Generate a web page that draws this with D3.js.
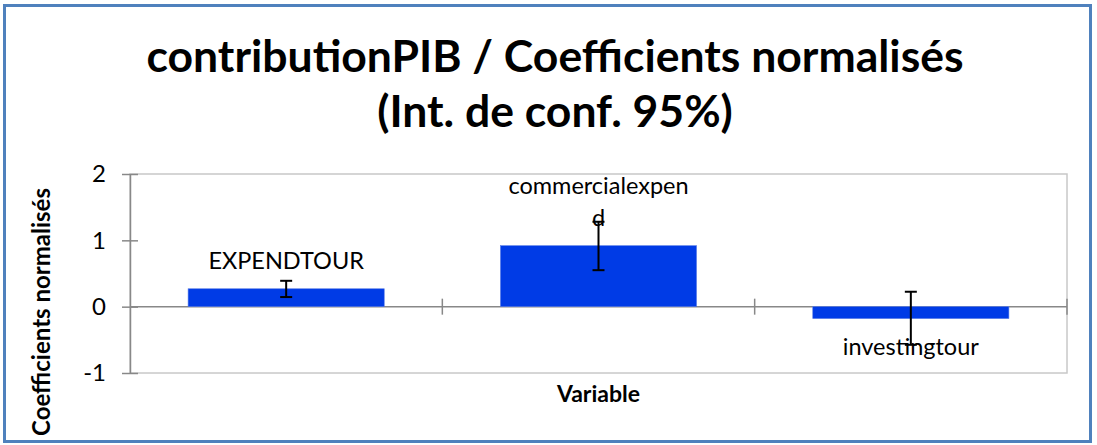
<!DOCTYPE html>
<html>
<head>
<meta charset="utf-8">
<script src="https://d3js.org/d3.v7.min.js"></script>
<style>
  body { margin: 0; background: #fff; }
  text { font-family: Lato, "Open Sans", sans-serif; fill: #000; }
</style>
</head>
<body>
<script>
// data
var variables = ["EXPENDTOUR", "commercialexpend", "investingtour"];
var coefs     = [0.27, 0.92, -0.18];
var ciLow     = [0.145, 0.55, -0.575];
var ciHigh    = [0.39, 1.28, 0.225];
var yTicks    = [-1, 0, 1, 2];

var W = 1097, H = 445;
var plot = {left: 130, right: 1067, top: 174, bottom: 373};

var svg = d3.select("body").append("svg")
    .attr("width", W)
    .attr("height", H);

// outer frame
svg.append("rect")
    .attr("x", 4.5).attr("y", 5.5)
    .attr("width", 1086).attr("height", 436)
    .attr("fill", "#fff")
    .attr("stroke", "#4f81bd")
    .attr("stroke-width", 3);

// title
var title = svg.append("text")
    .attr("text-anchor", "middle")
    .attr("font-weight", "bold")
    .attr("font-size", 44.5);
title.append("tspan").attr("x", 555).attr("y", 72).text("contributionPIB / Coefficients normalisés");
title.append("tspan").attr("x", 555).attr("y", 127).text("(Int. de conf. 95%)");

var x = d3.scaleBand()
    .domain(variables)
    .range([plot.left, plot.right])
    .paddingInner(0.372)
    .paddingOuter(0.186);

var y = d3.scaleLinear()
    .domain([-1, 2])
    .range([plot.bottom, plot.top]);

// plot area border
svg.append("rect")
    .attr("x", plot.left).attr("y", plot.top)
    .attr("width", plot.right - plot.left)
    .attr("height", plot.bottom - plot.top)
    .attr("fill", "none")
    .attr("stroke", "#c8c8c8")
    .attr("stroke-width", 1.5);

// y axis
var yAxis = d3.axisLeft(y)
    .tickValues(yTicks)
    .tickFormat(function (d) { return String(d); })   // plain hyphen like excel
    .tickSizeInner(8)
    .tickSizeOuter(0)
    .tickPadding(16);
var gy = svg.append("g")
    .attr("transform", "translate(" + plot.left + ",0)")
    .call(yAxis);
gy.select(".domain").attr("stroke", "#888").attr("stroke-width", 1.5);
gy.selectAll(".tick line").attr("stroke", "#888").attr("stroke-width", 1.5)
    .attr("x2", -8).attr("x1", 8);
gy.selectAll(".tick text")
    .attr("font-size", 24)
    .attr("font-family", "Lato, sans-serif")
    .attr("fill", "#000");

// zero line (category axis)
var step = x.step();
var gx = svg.append("g");
gx.append("line")
    .attr("x1", plot.left).attr("x2", plot.right)
    .attr("y1", y(0)).attr("y2", y(0))
    .attr("stroke", "#888").attr("stroke-width", 1.5);
gx.selectAll("line.tk")
    .data(variables)
    .enter().append("line")
    .attr("class", "tk")
    .attr("x1", function (d) { return x(d) + x.bandwidth() + (step - x.bandwidth()) / 2; })
    .attr("x2", function (d) { return x(d) + x.bandwidth() + (step - x.bandwidth()) / 2; })
    .attr("y1", y(0) - 8).attr("y2", y(0) + 8)
    .attr("stroke", "#888").attr("stroke-width", 1.5);

// bars
svg.selectAll("rect.bar")
    .data(variables)
    .enter().append("rect")
    .attr("class", "bar")
    .attr("x", function (d) { return x(d); })
    .attr("width", x.bandwidth())
    .attr("y", function (d, i) { return y(Math.max(0, coefs[i])); })
    .attr("height", function (d, i) { return Math.abs(y(coefs[i]) - y(0)); })
    .attr("fill", "#003be6")
    .attr("stroke", "#5b7fe8")
    .attr("stroke-width", 0.6);

// error bars
var capw = 6;
var eb = svg.selectAll("g.err")
    .data(variables)
    .enter().append("g")
    .attr("class", "err")
    .attr("stroke", "#000")
    .attr("stroke-width", 2);
eb.append("line")
    .attr("x1", function (d) { return x(d) + x.bandwidth() / 2; })
    .attr("x2", function (d) { return x(d) + x.bandwidth() / 2; })
    .attr("y1", function (d, i) { return y(ciLow[i]); })
    .attr("y2", function (d, i) { return y(ciHigh[i]); });
eb.append("line")
    .attr("x1", function (d) { return x(d) + x.bandwidth() / 2 - capw; })
    .attr("x2", function (d) { return x(d) + x.bandwidth() / 2 + capw; })
    .attr("y1", function (d, i) { return y(ciHigh[i]); })
    .attr("y2", function (d, i) { return y(ciHigh[i]); });
eb.append("line")
    .attr("x1", function (d) { return x(d) + x.bandwidth() / 2 - capw; })
    .attr("x2", function (d) { return x(d) + x.bandwidth() / 2 + capw; })
    .attr("y1", function (d, i) { return y(ciLow[i]); })
    .attr("y2", function (d, i) { return y(ciLow[i]); });

// data labels (category names), wrapped like excel does
var labelSize = 23.5, lineH = 32, maxW = 188;
variables.forEach(function (name, i) {
    var cx = x(name) + x.bandwidth() / 2;
    var t = svg.append("text")
        .attr("text-anchor", "middle")
        .attr("font-size", labelSize);
    // split by characters when too wide
    var lines = [], cur = "";
    var probe = svg.append("text").attr("font-size", labelSize);
    for (var c = 0; c < name.length; c++) {
        probe.text(cur + name[c]);
        if (probe.node().getComputedTextLength() > maxW && cur.length) {
            lines.push(cur);
            cur = name[c];
        } else {
            cur += name[c];
        }
    }
    lines.push(cur);
    probe.remove();
    var base;
    if (coefs[i] >= 0) {
        base = y(coefs[i]) - 20 - (lines.length - 1) * lineH;
    } else {
        base = y(coefs[i]) + 36;
    }
    lines.forEach(function (s, j) {
        t.append("tspan").attr("x", cx).attr("y", base + j * lineH).text(s);
    });
});

// axis titles
svg.append("text")
    .attr("text-anchor", "middle")
    .attr("font-weight", "bold")
    .attr("font-size", 23)
    .attr("x", (plot.left + plot.right) / 2)
    .attr("y", 402)
    .text("Variable");

svg.append("text")
    .attr("text-anchor", "middle")
    .attr("font-weight", "bold")
    .attr("font-size", 24)
    .attr("transform", "translate(50,312) rotate(-90)")
    .text("Coefficients normalisés");
</script>
</body>
</html>
